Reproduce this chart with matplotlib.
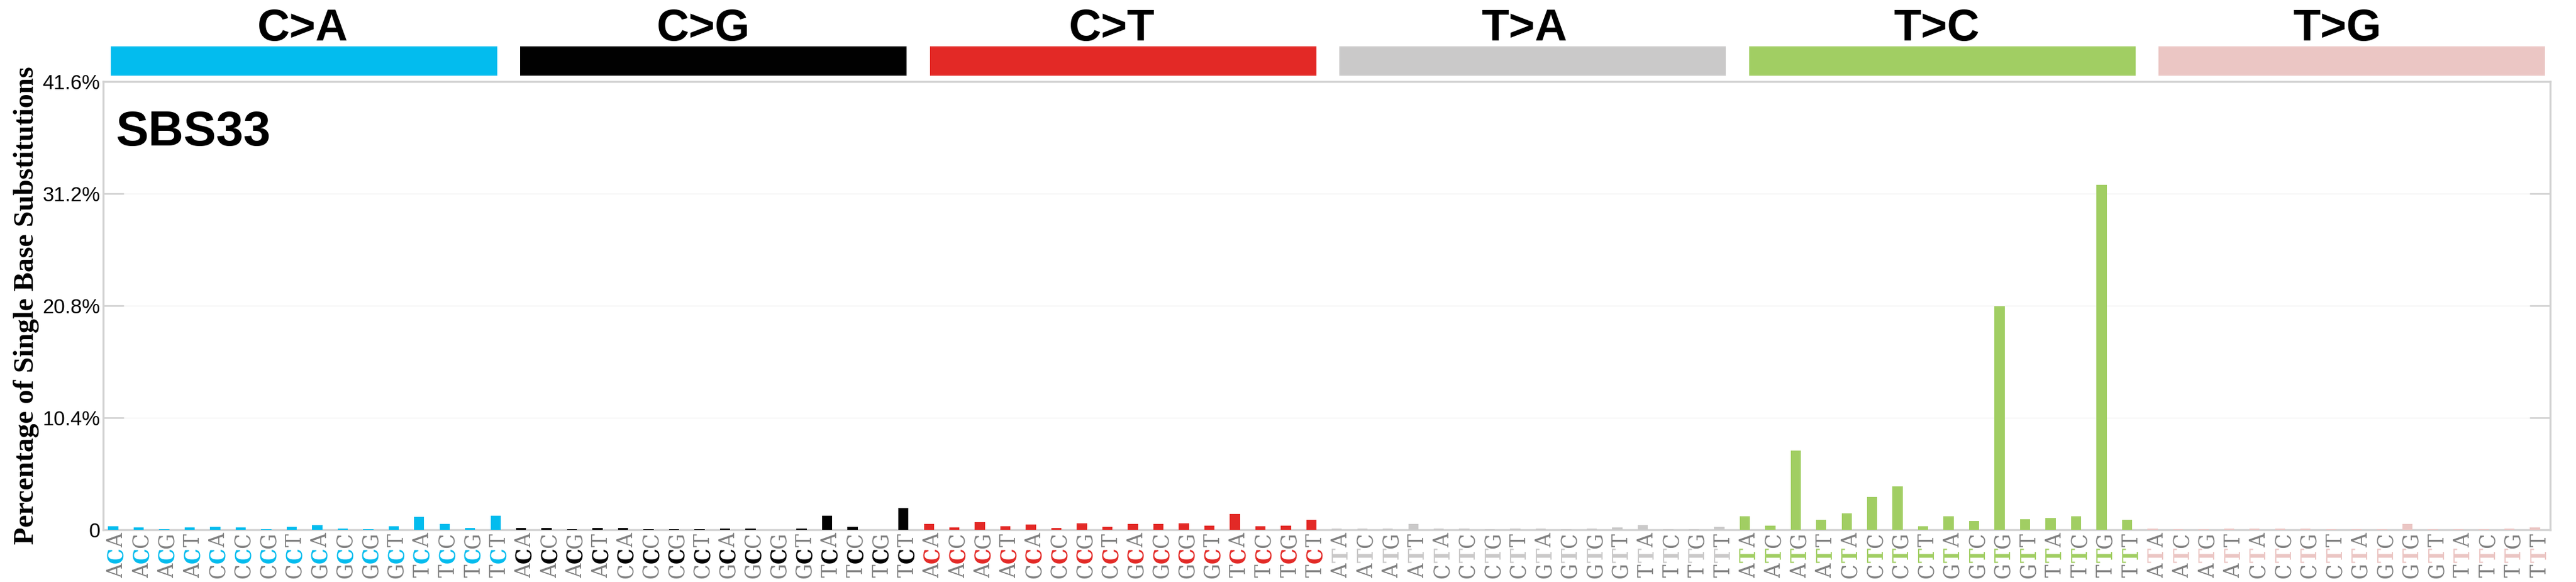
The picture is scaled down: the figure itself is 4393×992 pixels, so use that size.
import matplotlib
matplotlib.use("Agg")
import matplotlib.pyplot as plt
import numpy as np

# ---------------- data ----------------
mut_types = ["C>A", "C>G", "C>T", "T>A", "T>C", "T>G"]
# 5' and 3' flanking bases of the 16 trinucleotide contexts (middle base = mutated base)
flanks_5p = ["A", "A", "A", "A", "C", "C", "C", "C", "G", "G", "G", "G", "T", "T", "T", "T"]
flanks_3p = ["A", "C", "G", "T", "A", "C", "G", "T", "A", "C", "G", "T", "A", "C", "G", "T"]

vals_CA = [0.33, 0.22, 0.05, 0.22, 0.27, 0.22, 0.05, 0.27,
           0.44, 0.11, 0.05, 0.33, 1.20, 0.55, 0.16, 1.31]
vals_CG = [0.16, 0.16, 0.05, 0.16, 0.16, 0.05, 0.05, 0.05,
           0.11, 0.11, 0.00, 0.11, 1.31, 0.27, 0.00, 2.02]
vals_CT = [0.55, 0.22, 0.71, 0.33, 0.49, 0.16, 0.60, 0.27,
           0.55, 0.55, 0.60, 0.38, 1.48, 0.33, 0.38, 0.93]
vals_TA = [0.11, 0.11, 0.11, 0.55, 0.11, 0.11, 0.05, 0.11,
           0.11, 0.05, 0.11, 0.22, 0.44, 0.03, 0.03, 0.27]
vals_TC = [1.25, 0.38, 7.36, 0.93, 1.53, 3.05, 4.04, 0.33,
           1.25, 0.82, 20.75, 0.98, 1.09, 1.25, 32.00, 0.93]
vals_TG = [0.11, 0.05, 0.05, 0.11, 0.11, 0.11, 0.11, 0.05,
           0.05, 0.05, 0.55, 0.05, 0.05, 0.05, 0.11, 0.22]

series = [vals_CA, vals_CG, vals_CT, vals_TA, vals_TC, vals_TG]

ytick_vals = [0, 10.4, 20.8, 31.2, 41.6]
ytick_labels = ["0", "10.4%", "20.8%", "31.2%", "41.6%"]
sample_name = "SBS33"
ylabel_text = "Percentage of Single Base Substitutions"

colors = [[3/256, 189/256, 239/256], [1/256, 1/256, 1/256], [228/256, 41/256, 38/256],
          [203/256, 202/256, 202/256], [162/256, 207/256, 99/256], [236/256, 199/256, 197/256]]

SANS = ["Liberation Sans", "DejaVu Sans"]
SERIF = ["Liberation Serif", "DejaVu Serif"]
LABEL_FONT = ["DejaVu Serif", "Liberation Serif"]

# ---------------- figure ----------------
plt.rc('axes', edgecolor='lightgray')
fig = plt.figure(figsize=(43.93, 9.92), dpi=100)
ax = plt.axes([0.04, 0.09, 0.95, 0.77])

x = 0.4
for i, vals in enumerate(series):
    xs = x + np.arange(len(vals))
    ax.bar(xs, vals, width=0.4, color=colors[i], align='center', zorder=1000)
    x += len(vals)

# category colour bars and titles
bx = 0.043
title_x = [0.1, 0.255, 0.415, 0.575, 0.735, 0.89]
for i, mt in enumerate(mut_types):
    ax.add_patch(plt.Rectangle((bx, 0.87), 0.15, 0.05, facecolor=colors[i],
                               clip_on=False, transform=fig.transFigure))
    bx += 0.159
    fig.text(title_x[i], 0.93, mt, fontsize=55, fontweight='bold', family=SANS)

# trinucleotide labels
for m, mt in enumerate(mut_types):
    for j in range(16):
        i = m * 16 + j
        xp = i / 101 + 0.0413
        fig.text(xp, 0.0195, flanks_5p[j], fontsize=27, color='gray', rotation='vertical',
                 verticalalignment='center', family=LABEL_FONT, stretch='condensed')
        fig.text(xp, 0.0455, mt[0], fontsize=27, color=colors[m], rotation='vertical',
                 verticalalignment='center', family=LABEL_FONT, fontweight='bold',
                 stretch='condensed')
        fig.text(xp, 0.0715, flanks_3p[j], fontsize=27, color='gray', rotation='vertical',
                 verticalalignment='center', family=LABEL_FONT, stretch='condensed')

fig.text(0.045, 0.75, sample_name, fontsize=60, weight='bold', color='black', family=SANS)

ax.set_xlim([0, 96])
ax.set_ylim([0, 41.6])
ax.set_xticks(np.arange(0.375, 96.375, 1))
ax.set_yticks(ytick_vals)
ax.set_yticklabels(ytick_labels, fontsize=25, family=SANS)
ax.yaxis.grid(True)
ax.grid(which='major', axis='y', color=[0.93, 0.93, 0.93], zorder=1)
ax.set_axisbelow(True)
ax.set_ylabel(ylabel_text, fontsize=35, family=SERIF, weight='bold')

ax.tick_params(axis='both', which='both', bottom=False, labelbottom=False,
               left=True, labelleft=True, right=True, labelright=False,
               top=False, labeltop=False, direction='in', length=25,
               colors='lightgray', width=2)
for t in ax.get_yticklabels():
    t.set_color('black')
for s in ax.spines.values():
    s.set_linewidth(2.5)

fig.savefig("out.png", dpi=100)
